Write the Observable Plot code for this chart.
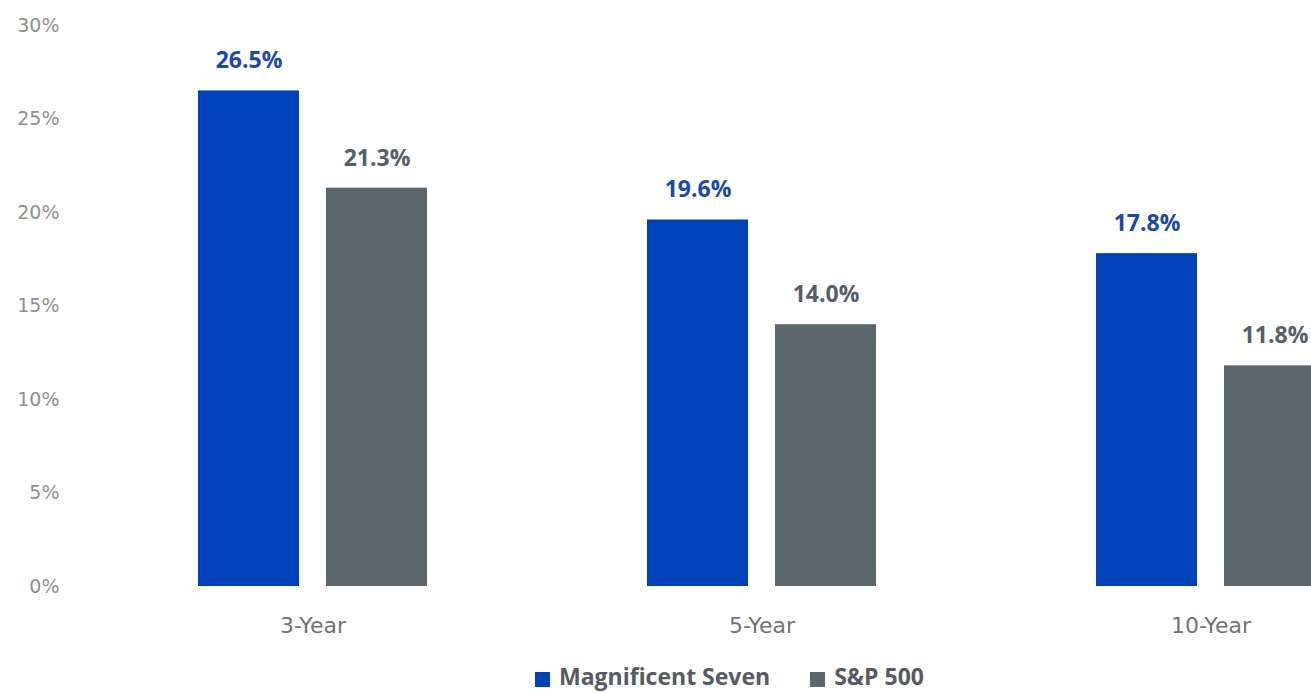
<!DOCTYPE html>
<html>
<head>
<meta charset="utf-8">
<script src="https://cdn.jsdelivr.net/npm/d3@7"></script>
<script src="https://cdn.jsdelivr.net/npm/@observablehq/plot@0.6"></script>
<style>
  html, body { margin: 0; padding: 0; background: #fff; }
  #wrap { position: relative; width: 1311px; height: 693px; overflow: hidden; font-family: "Open Sans", sans-serif; }
  #chart { position: absolute; left: 0; top: 0; }
  #chart svg { max-width: none !important; }
  #legend { position: absolute; left: 535px; top: 663px; line-height: 27px; display: flex; gap: 40px; font-weight: bold; font-size: 23px; color: #555b60; white-space: nowrap; }
  .item { display: flex; align-items: center; gap: 9px; }
  .sw { width: 15px; height: 15px; display: inline-block; margin-top: 6px; }
</style>
</head>
<body>
<div id="wrap">
  <div id="chart"></div>
  <div id="legend"></div>
</div>
<script>
const periods = ["3-Year", "5-Year", "10-Year"];
const series = ["Magnificent Seven", "S&P 500"];
const mag7 = [26.5, 19.6, 17.8];
const sp500 = [21.3, 14.0, 11.8];
const yTicks = [0, 5, 10, 15, 20, 25, 30];
const barColors = ["#0042b9", "#5b666d"];
const labelColors = ["#1c48a8", "#565f66"];

const data = periods.flatMap((p, i) => [
  {period: p, series: series[0], value: mag7[i]},
  {period: p, series: series[1], value: sp500[i]}
]);

const chart = Plot.plot({
  width: 1435,
  height: 650,
  marginLeft: 88,
  marginRight: 0,
  marginTop: 25,
  marginBottom: 64,
  style: {fontFamily: "Open Sans", background: "white"},
  fx: {domain: periods, padding: 0, label: null},
  x: {domain: series, paddingInner: 0.211, paddingOuter: 0.857, axis: null},
  y: {domain: [0, 30], label: null},
  color: {domain: series, range: barColors},
  marks: [
    Plot.axisY({ticks: yTicks, tickFormat: d => d + "%", tickSize: 0, tickPadding: 29, fontSize: 19, fontFamily: "DejaVu Sans", fontWeight: "normal", color: "#8f8f8f", label: null}),
    Plot.axisFx({anchor: "bottom", tickSize: 0, tickPadding: 31, fontSize: 22, fontFamily: "DejaVu Sans", fontWeight: "normal", color: "#727272", label: null}),
    Plot.barY(data, {fx: "period", x: "series", y: "value", fill: "series"}),
    Plot.text(data, {
      fx: "period", x: "series", y: "value",
      text: d => d.value.toFixed(1) + "%",
      dy: -30,
      fill: d => labelColors[series.indexOf(d.series)],
      fontWeight: "bold",
      fontSize: 23
    })
  ]
});
document.getElementById("chart").appendChild(chart);

const legend = document.getElementById("legend");
series.forEach((s, i) => {
  const it = document.createElement("div");
  it.className = "item";
  const sw = document.createElement("span");
  sw.className = "sw";
  sw.style.background = barColors[i];
  const t = document.createElement("span");
  t.textContent = s;
  it.appendChild(sw);
  it.appendChild(t);
  legend.appendChild(it);
});
</script>
</body>
</html>
